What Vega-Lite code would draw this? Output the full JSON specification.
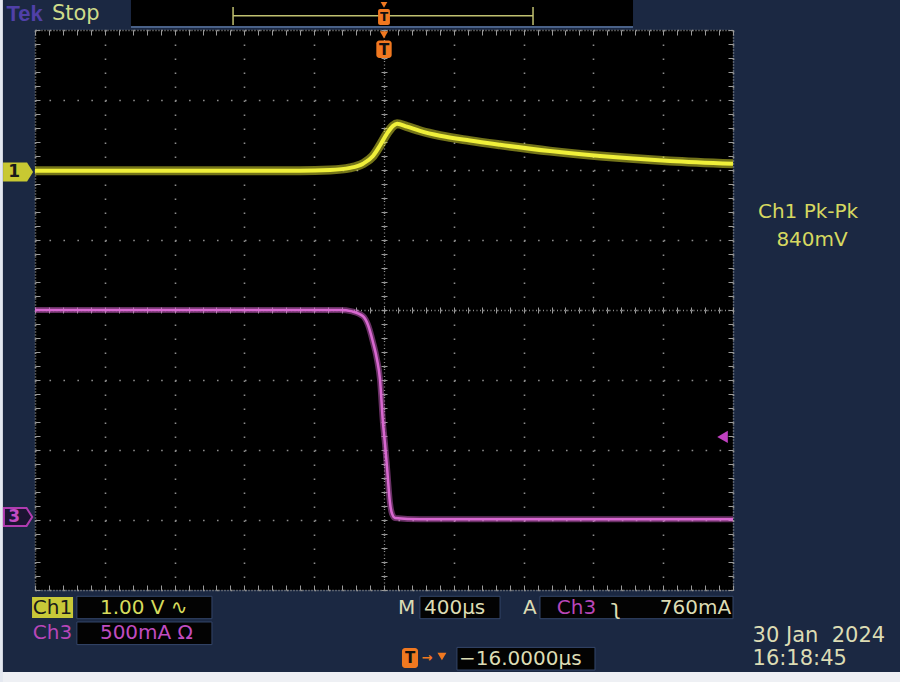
{
  "$schema": "https://vega.github.io/schema/vega-lite/v6.json",
  "width": 698,
  "height": 560,
  "autosize": {"type": "none"},
  "padding": {"left": 35, "top": 30, "right": 167, "bottom": 92},
  "background": "#1b2842",
  "data": {"values": [{}]},
  "datasets": {
    "ch1": [
      {"t": -2000, "v": 1.99}, {"t": -1341, "v": 1.99}, {"t": -481, "v": 1.99}, {"t": -309, "v": 2.0},
      {"t": -195, "v": 2.03}, {"t": -120, "v": 2.09}, {"t": -63, "v": 2.2}, {"t": -23, "v": 2.35},
      {"t": 17, "v": 2.52}, {"t": 52, "v": 2.63}, {"t": 75, "v": 2.66}, {"t": 132, "v": 2.62},
      {"t": 206, "v": 2.56}, {"t": 321, "v": 2.49}, {"t": 493, "v": 2.42}, {"t": 665, "v": 2.36},
      {"t": 951, "v": 2.27}, {"t": 1238, "v": 2.2}, {"t": 1639, "v": 2.13}, {"t": 2000, "v": 2.09}
    ],
    "ch3": [
      {"t": -2000, "v": 0.0}, {"t": -1000, "v": 0.0}, {"t": -252, "v": 0.0}, {"t": -183, "v": -0.02},
      {"t": -120, "v": -0.09}, {"t": -92, "v": -0.21}, {"t": -63, "v": -0.46}, {"t": -40, "v": -0.71},
      {"t": -23, "v": -0.99}, {"t": -6, "v": -1.61}, {"t": 6, "v": -1.92}, {"t": 17, "v": -2.24},
      {"t": 34, "v": -2.75}, {"t": 46, "v": -2.91}, {"t": 63, "v": -2.97}, {"t": 206, "v": -2.99},
      {"t": 2000, "v": -2.99}
    ]
  },
  "resolve": {"axis": {"x": "independent", "y": "independent"}},
  "config": {
    "view": {"fill": "#000000", "stroke": null},
    "text": {"font": "DejaVu Sans", "fontSize": 20, "baseline": "middle", "align": "left"}
  },
  "layer": [
    {"mark": {"type": "rect", "fill": "#eef0f4"}, "encoding": {"x": {"datum": -2210, "type": "quantitative", "axis": null}, "x2": {"datum": 2960}, "y": {"datum": -5.171, "type": "quantitative", "axis": null}, "y2": {"datum": -5.45}}},
    {"mark": {"type": "rect", "fill": "#e4e8f0"}, "encoding": {"x": {"datum": -2210, "type": "quantitative", "axis": null}, "x2": {"datum": -2184}, "y": {"datum": 4.5, "type": "quantitative", "axis": null}, "y2": {"datum": -5.45}}},
    {"mark": {"type": "rect", "fill": "#000000"}, "encoding": {"x": {"datum": -1450, "type": "quantitative", "axis": null}, "x2": {"datum": 1427}, "y": {"datum": 4.5, "type": "quantitative", "axis": null}, "y2": {"datum": 4.057}}},
    {"mark": {"type": "rule", "color": "#5a74a0", "strokeWidth": 1.5}, "encoding": {"x": {"datum": -1450, "type": "quantitative", "axis": null}, "x2": {"datum": 1427}, "y": {"datum": 4.043, "type": "quantitative", "axis": null}}},
    {"mark": {"type": "rule", "color": "#c0c070", "strokeWidth": 1.5}, "encoding": {"x": {"datum": -865, "type": "quantitative", "axis": null}, "x2": {"datum": 854}, "y": {"datum": 4.204, "type": "quantitative", "axis": null}}},
    {"mark": {"type": "rule", "color": "#c0c070", "strokeWidth": 1.5}, "encoding": {"x": {"datum": -865, "type": "quantitative", "axis": null}, "y": {"datum": 4.33, "type": "quantitative", "axis": null}, "y2": {"datum": 4.07}}},
    {"mark": {"type": "rule", "color": "#c0c070", "strokeWidth": 1.5}, "encoding": {"x": {"datum": 854, "type": "quantitative", "axis": null}, "y": {"datum": 4.33, "type": "quantitative", "axis": null}, "y2": {"datum": 4.07}}},
    {"mark": {"type": "point", "shape": "triangle-down", "filled": true, "fill": "#f07820", "size": 45, "opacity": 1}, "encoding": {"x": {"datum": 0, "type": "quantitative", "axis": null}, "y": {"datum": 4.36, "type": "quantitative", "axis": null}}},
    {"mark": {"type": "rect", "fill": "#f07820", "cornerRadius": 2}, "encoding": {"x": {"datum": -34, "type": "quantitative", "axis": null}, "x2": {"datum": 34}, "y": {"datum": 4.3, "type": "quantitative", "axis": null}, "y2": {"datum": 4.071}}},
    {"mark": {"type": "text", "text": "T", "fill": "#111111", "fontSize": 12, "fontWeight": "bold", "align": "center"}, "encoding": {"x": {"datum": 0, "type": "quantitative", "axis": null}, "y": {"datum": 4.186, "type": "quantitative", "axis": null}}},
    {"mark": {"type": "text", "text": "Tek", "fill": "#5040a8", "font": "Liberation Sans", "fontSize": 22, "fontWeight": "bold"}, "encoding": {"x": {"datum": -2163, "type": "quantitative", "axis": null}, "y": {"datum": 4.222, "type": "quantitative", "axis": null}}},
    {"mark": {"type": "text", "text": "Stop", "fill": "#cfdc8a", "fontSize": 21}, "encoding": {"x": {"datum": -1903, "type": "quantitative", "axis": null}, "y": {"datum": 4.222, "type": "quantitative", "axis": null}}},

    {"mark": {"type": "point", "opacity": 0}, "encoding": {
      "x": {"datum": 0, "type": "quantitative", "scale": {"domain": [-2000, 2000], "nice": false, "zero": false},
        "axis": {"orient": "bottom", "values": [-2000, -1600, -1200, -800, -400, 0, 400, 800, 1200, 1600, 2000], "grid": true, "gridColor": "#8c8c8c", "gridWidth": 1.6, "gridDash": [1.6, 12.4], "ticks": false, "labels": false, "domain": false, "title": null}},
      "y": {"datum": 0, "type": "quantitative", "scale": {"domain": [-4, 4], "nice": false, "zero": false},
        "axis": {"orient": "left", "values": [-4, -3, -2, -1, 0, 1, 2, 3, 4], "grid": true, "gridColor": "#8c8c8c", "gridWidth": 1.6, "gridDash": [1.6, 12.36], "ticks": false, "labels": false, "domain": false, "title": null}}}},
    {"mark": {"type": "point", "opacity": 0}, "encoding": {
      "x": {"datum": 0, "type": "quantitative", "scale": {"domain": [-2000, 2000], "nice": false, "zero": false},
        "axis": {"orient": "top", "offset": -560, "values": [-2000,-1920,-1840,-1760,-1680,-1600,-1520,-1440,-1360,-1280,-1200,-1120,-1040,-960,-880,-800,-720,-640,-560,-480,-400,-320,-240,-160,-80,0,80,160,240,320,400,480,560,640,720,800,880,960,1040,1120,1200,1280,1360,1440,1520,1600,1680,1760,1840,1920,2000], "ticks": true, "tickSize": 5, "tickColor": "#9a9a9a", "tickWidth": 1, "domain": true, "domainColor": "#9a9a9a", "domainDash": [1, 2], "domainWidth": 1.5, "labels": false, "grid": false, "title": null}},
      "y": {"datum": 0, "type": "quantitative", "scale": {"domain": [-4, 4], "nice": false, "zero": false},
        "axis": {"orient": "right", "offset": -698, "values": [-4,-3.8,-3.6,-3.4,-3.2,-3,-2.8,-2.6,-2.4,-2.2,-2,-1.8,-1.6,-1.4,-1.2,-1,-0.8,-0.6,-0.4,-0.2,0,0.2,0.4,0.6,0.8,1,1.2,1.4,1.6,1.8,2,2.2,2.4,2.6,2.8,3,3.2,3.4,3.6,3.8,4], "ticks": true, "tickSize": 5, "tickColor": "#9a9a9a", "tickWidth": 1, "domain": true, "domainColor": "#9a9a9a", "domainDash": [1, 2], "domainWidth": 1.5, "labels": false, "grid": false, "title": null}}}},
    {"mark": {"type": "point", "opacity": 0}, "encoding": {
      "x": {"datum": 0, "type": "quantitative", "scale": {"domain": [-2000, 2000], "nice": false, "zero": false},
        "axis": {"orient": "bottom", "offset": -560, "values": [-2000,-1920,-1840,-1760,-1680,-1600,-1520,-1440,-1360,-1280,-1200,-1120,-1040,-960,-880,-800,-720,-640,-560,-480,-400,-320,-240,-160,-80,0,80,160,240,320,400,480,560,640,720,800,880,960,1040,1120,1200,1280,1360,1440,1520,1600,1680,1760,1840,1920,2000], "ticks": true, "tickSize": 5, "tickColor": "#9a9a9a", "tickWidth": 1, "domain": true, "domainColor": "#9a9a9a", "domainDash": [1, 2], "domainWidth": 1.5, "labels": false, "grid": false, "title": null}},
      "y": {"datum": 0, "type": "quantitative", "scale": {"domain": [-4, 4], "nice": false, "zero": false},
        "axis": {"orient": "left", "offset": -698, "values": [-4,-3.8,-3.6,-3.4,-3.2,-3,-2.8,-2.6,-2.4,-2.2,-2,-1.8,-1.6,-1.4,-1.2,-1,-0.8,-0.6,-0.4,-0.2,0,0.2,0.4,0.6,0.8,1,1.2,1.4,1.6,1.8,2,2.2,2.4,2.6,2.8,3,3.2,3.4,3.6,3.8,4], "ticks": true, "tickSize": 5, "tickColor": "#9a9a9a", "tickWidth": 1, "domain": true, "domainColor": "#9a9a9a", "domainDash": [1, 2], "domainWidth": 1.5, "labels": false, "grid": false, "title": null}}}},
    {"mark": {"type": "point", "opacity": 0}, "encoding": {
      "x": {"datum": 0, "type": "quantitative", "scale": {"domain": [-2000, 2000], "nice": false, "zero": false},
        "axis": {"orient": "bottom", "offset": -280, "values": [-2000,-1920,-1840,-1760,-1680,-1600,-1520,-1440,-1360,-1280,-1200,-1120,-1040,-960,-880,-800,-720,-640,-560,-480,-400,-320,-240,-160,-80,0,80,160,240,320,400,480,560,640,720,800,880,960,1040,1120,1200,1280,1360,1440,1520,1600,1680,1760,1840,1920,2000], "ticks": true, "tickSize": 3, "tickColor": "#9a9a9a", "tickWidth": 1, "domain": true, "domainColor": "#8c8c8c", "domainDash": [1, 2.5], "domainWidth": 1.3, "labels": false, "grid": false, "title": null}},
      "y": {"datum": 0, "type": "quantitative", "scale": {"domain": [-4, 4], "nice": false, "zero": false},
        "axis": {"orient": "left", "offset": -349, "values": [-4,-3.8,-3.6,-3.4,-3.2,-3,-2.8,-2.6,-2.4,-2.2,-2,-1.8,-1.6,-1.4,-1.2,-1,-0.8,-0.6,-0.4,-0.2,0,0.2,0.4,0.6,0.8,1,1.2,1.4,1.6,1.8,2,2.2,2.4,2.6,2.8,3,3.2,3.4,3.6,3.8,4], "ticks": true, "tickSize": 3, "tickColor": "#9a9a9a", "tickWidth": 1, "domain": true, "domainColor": "#8c8c8c", "domainDash": [1, 2.5], "domainWidth": 1.3, "labels": false, "grid": false, "title": null}}}},
    {"mark": {"type": "point", "opacity": 0}, "encoding": {
      "x": {"datum": 0, "type": "quantitative", "scale": {"domain": [-2000, 2000], "nice": false, "zero": false},
        "axis": {"orient": "top", "offset": -280, "values": [-2000,-1920,-1840,-1760,-1680,-1600,-1520,-1440,-1360,-1280,-1200,-1120,-1040,-960,-880,-800,-720,-640,-560,-480,-400,-320,-240,-160,-80,0,80,160,240,320,400,480,560,640,720,800,880,960,1040,1120,1200,1280,1360,1440,1520,1600,1680,1760,1840,1920,2000], "ticks": true, "tickSize": 3, "tickColor": "#9a9a9a", "tickWidth": 1, "domain": false, "labels": false, "grid": false, "title": null}},
      "y": {"datum": 0, "type": "quantitative", "scale": {"domain": [-4, 4], "nice": false, "zero": false},
        "axis": {"orient": "right", "offset": -349, "values": [-4,-3.8,-3.6,-3.4,-3.2,-3,-2.8,-2.6,-2.4,-2.2,-2,-1.8,-1.6,-1.4,-1.2,-1,-0.8,-0.6,-0.4,-0.2,0,0.2,0.4,0.6,0.8,1,1.2,1.4,1.6,1.8,2,2.2,2.4,2.6,2.8,3,3.2,3.4,3.6,3.8,4], "ticks": true, "tickSize": 3, "tickColor": "#9a9a9a", "tickWidth": 1, "domain": false, "labels": false, "grid": false, "title": null}}}},

    {"data": {"name": "ch1"}, "mark": {"type": "line", "color": "#e8e832", "strokeWidth": 9, "opacity": 0.5, "interpolate": "monotone"},
      "encoding": {"x": {"field": "t", "type": "quantitative", "axis": null}, "y": {"field": "v", "type": "quantitative", "axis": null}}},
    {"data": {"name": "ch1"}, "mark": {"type": "line", "color": "#f0f03a", "strokeWidth": 4, "interpolate": "monotone"},
      "encoding": {"x": {"field": "t", "type": "quantitative", "axis": null}, "y": {"field": "v", "type": "quantitative", "axis": null}}},
    {"data": {"name": "ch3"}, "mark": {"type": "line", "color": "#d060c8", "strokeWidth": 6, "opacity": 0.5, "interpolate": "monotone"},
      "encoding": {"x": {"field": "t", "type": "quantitative", "axis": null}, "y": {"field": "v", "type": "quantitative", "axis": null}}},
    {"data": {"name": "ch3"}, "mark": {"type": "line", "color": "#d868d0", "strokeWidth": 2.5, "interpolate": "monotone"},
      "encoding": {"x": {"field": "t", "type": "quantitative", "axis": null}, "y": {"field": "v", "type": "quantitative", "axis": null}}},

    {"mark": {"type": "point", "shape": "triangle-down", "filled": true, "fill": "#f07820", "size": 70, "opacity": 1}, "encoding": {"x": {"datum": 0, "type": "quantitative", "axis": null}, "y": {"datum": 3.93, "type": "quantitative", "axis": null}}},
    {"mark": {"type": "rect", "fill": "#f07820", "cornerRadius": 3}, "encoding": {"x": {"datum": -44, "type": "quantitative", "axis": null}, "x2": {"datum": 44}, "y": {"datum": 3.85, "type": "quantitative", "axis": null}, "y2": {"datum": 3.6}}},
    {"mark": {"type": "text", "text": "T", "fill": "#111111", "fontSize": 15, "fontWeight": "bold", "align": "center"}, "encoding": {"x": {"datum": 0, "type": "quantitative", "axis": null}, "y": {"datum": 3.72, "type": "quantitative", "axis": null}}},

    {"mark": {"type": "point", "shape": "M -1 -0.63 L 0.6 -0.63 L 1 0 L 0.6 0.63 L -1 0.63 Z", "filled": true, "fill": "#c8c832", "size": 900, "opacity": 1}, "encoding": {"x": {"datum": -2097, "type": "quantitative", "axis": null}, "y": {"datum": 1.971, "type": "quantitative", "axis": null}}},
    {"mark": {"type": "text", "text": "1", "fill": "#1a1a1a", "fontSize": 17, "fontWeight": "bold", "align": "center"}, "encoding": {"x": {"datum": -2120, "type": "quantitative", "axis": null}, "y": {"datum": 1.971, "type": "quantitative", "axis": null}}},
    {"mark": {"type": "point", "shape": "M -1 -0.63 L 0.6 -0.63 L 1 0 L 0.6 0.63 L -1 0.63 Z", "filled": true, "fill": "#1c1432", "stroke": "#b03cb0", "strokeWidth": 2, "size": 800, "opacity": 1}, "encoding": {"x": {"datum": -2097, "type": "quantitative", "axis": null}, "y": {"datum": -2.957, "type": "quantitative", "axis": null}}},
    {"mark": {"type": "text", "text": "3", "fill": "#c24cc2", "fontSize": 17, "fontWeight": "bold", "align": "center"}, "encoding": {"x": {"datum": -2120, "type": "quantitative", "axis": null}, "y": {"datum": -2.957, "type": "quantitative", "axis": null}}},
    {"mark": {"type": "point", "shape": "triangle-left", "filled": true, "fill": "#c040c0", "size": 150, "opacity": 1}, "encoding": {"x": {"datum": 1940, "type": "quantitative", "axis": null}, "y": {"datum": -1.814, "type": "quantitative", "axis": null}}},

    {"mark": {"type": "text", "text": "Ch1 Pk-Pk", "fill": "#d6d860", "align": "center"}, "encoding": {"x": {"datum": 2430, "type": "quantitative", "axis": null}, "y": {"datum": 1.4, "type": "quantitative", "axis": null}}},
    {"mark": {"type": "text", "text": "840mV", "fill": "#d6d860", "align": "center"}, "encoding": {"x": {"datum": 2453, "type": "quantitative", "axis": null}, "y": {"datum": 1.0, "type": "quantitative", "axis": null}}},

    {"mark": {"type": "rect", "fill": "#c8c838"}, "encoding": {"x": {"datum": -2017, "type": "quantitative", "axis": null}, "x2": {"datum": -1782}, "y": {"datum": -4.1, "type": "quantitative", "axis": null}, "y2": {"datum": -4.4}}},
    {"mark": {"type": "text", "text": "Ch1", "fill": "#1a1a1a", "align": "center"}, "encoding": {"x": {"datum": -1900, "type": "quantitative", "axis": null}, "y": {"datum": -4.25, "type": "quantitative", "axis": null}}},
    {"mark": {"type": "rect", "fill": "#030303", "stroke": "#34466a", "strokeWidth": 1}, "encoding": {"x": {"datum": -1760, "type": "quantitative", "axis": null}, "x2": {"datum": -986}, "y": {"datum": -4.09, "type": "quantitative", "axis": null}, "y2": {"datum": -4.41}}},
    {"mark": {"type": "text", "text": "1.00 V ∿", "fill": "#d6dc5c"}, "encoding": {"x": {"datum": -1628, "type": "quantitative", "axis": null}, "y": {"datum": -4.25, "type": "quantitative", "axis": null}}},
    {"mark": {"type": "text", "text": "Ch3", "fill": "#b846b8", "align": "center"}, "encoding": {"x": {"datum": -1900, "type": "quantitative", "axis": null}, "y": {"datum": -4.61, "type": "quantitative", "axis": null}}},
    {"mark": {"type": "rect", "fill": "#030303", "stroke": "#34466a", "strokeWidth": 1}, "encoding": {"x": {"datum": -1760, "type": "quantitative", "axis": null}, "x2": {"datum": -986}, "y": {"datum": -4.457, "type": "quantitative", "axis": null}, "y2": {"datum": -4.78}}},
    {"mark": {"type": "text", "text": "500mA Ω", "fill": "#c04cc0"}, "encoding": {"x": {"datum": -1628, "type": "quantitative", "axis": null}, "y": {"datum": -4.61, "type": "quantitative", "axis": null}}},

    {"mark": {"type": "text", "text": "M", "fill": "#dcdcb4"}, "encoding": {"x": {"datum": 80, "type": "quantitative", "axis": null}, "y": {"datum": -4.25, "type": "quantitative", "axis": null}}},
    {"mark": {"type": "rect", "fill": "#030303", "stroke": "#34466a", "strokeWidth": 1}, "encoding": {"x": {"datum": 206, "type": "quantitative", "axis": null}, "x2": {"datum": 665}, "y": {"datum": -4.09, "type": "quantitative", "axis": null}, "y2": {"datum": -4.41}}},
    {"mark": {"type": "text", "text": "400µs", "fill": "#dcdcb4"}, "encoding": {"x": {"datum": 229, "type": "quantitative", "axis": null}, "y": {"datum": -4.25, "type": "quantitative", "axis": null}}},
    {"mark": {"type": "text", "text": "A", "fill": "#dcdcb4"}, "encoding": {"x": {"datum": 797, "type": "quantitative", "axis": null}, "y": {"datum": -4.25, "type": "quantitative", "axis": null}}},
    {"mark": {"type": "rect", "fill": "#030303", "stroke": "#34466a", "strokeWidth": 1}, "encoding": {"x": {"datum": 894, "type": "quantitative", "axis": null}, "x2": {"datum": 2000}, "y": {"datum": -4.09, "type": "quantitative", "axis": null}, "y2": {"datum": -4.41}}},
    {"mark": {"type": "text", "text": "Ch3", "fill": "#b846b8"}, "encoding": {"x": {"datum": 990, "type": "quantitative", "axis": null}, "y": {"datum": -4.25, "type": "quantitative", "axis": null}}},
    {"mark": {"type": "text", "text": "ʅ", "fill": "#dcdcb4", "fontSize": 22}, "encoding": {"x": {"datum": 1300, "type": "quantitative", "axis": null}, "y": {"datum": -4.25, "type": "quantitative", "axis": null}}},
    {"mark": {"type": "text", "text": "760mA", "fill": "#dcdcb4", "align": "right"}, "encoding": {"x": {"datum": 1989, "type": "quantitative", "axis": null}, "y": {"datum": -4.25, "type": "quantitative", "axis": null}}},

    {"mark": {"type": "rect", "fill": "#f07820", "cornerRadius": 3}, "encoding": {"x": {"datum": 103, "type": "quantitative", "axis": null}, "x2": {"datum": 195}, "y": {"datum": -4.829, "type": "quantitative", "axis": null}, "y2": {"datum": -5.114}}},
    {"mark": {"type": "text", "text": "T", "fill": "#111111", "fontSize": 15, "fontWeight": "bold", "align": "center"}, "encoding": {"x": {"datum": 149, "type": "quantitative", "axis": null}, "y": {"datum": -4.97, "type": "quantitative", "axis": null}}},
    {"mark": {"type": "text", "text": "→", "fill": "#f07820", "fontSize": 13, "fontWeight": "bold", "align": "center"}, "encoding": {"x": {"datum": 246, "type": "quantitative", "axis": null}, "y": {"datum": -4.97, "type": "quantitative", "axis": null}}},
    {"mark": {"type": "point", "shape": "triangle-down", "filled": true, "fill": "#f07820", "size": 80, "opacity": 1}, "encoding": {"x": {"datum": 332, "type": "quantitative", "axis": null}, "y": {"datum": -4.95, "type": "quantitative", "axis": null}}},
    {"mark": {"type": "rect", "fill": "#030303", "stroke": "#34466a", "strokeWidth": 1}, "encoding": {"x": {"datum": 418, "type": "quantitative", "axis": null}, "x2": {"datum": 1209}, "y": {"datum": -4.82, "type": "quantitative", "axis": null}, "y2": {"datum": -5.143}}},
    {"mark": {"type": "text", "text": "−16.0000µs", "fill": "#dcdcb4"}, "encoding": {"x": {"datum": 430, "type": "quantitative", "axis": null}, "y": {"datum": -4.98, "type": "quantitative", "axis": null}}},
    {"mark": {"type": "text", "text": "30 Jan\u00a0 2024", "fill": "#dcdcb4", "fontSize": 21}, "encoding": {"x": {"datum": 2112, "type": "quantitative", "axis": null}, "y": {"datum": -4.65, "type": "quantitative", "axis": null}}},
    {"mark": {"type": "text", "text": "16:18:45", "fill": "#dcdcb4", "fontSize": 21}, "encoding": {"x": {"datum": 2112, "type": "quantitative", "axis": null}, "y": {"datum": -4.98, "type": "quantitative", "axis": null}}}
  ]
}
